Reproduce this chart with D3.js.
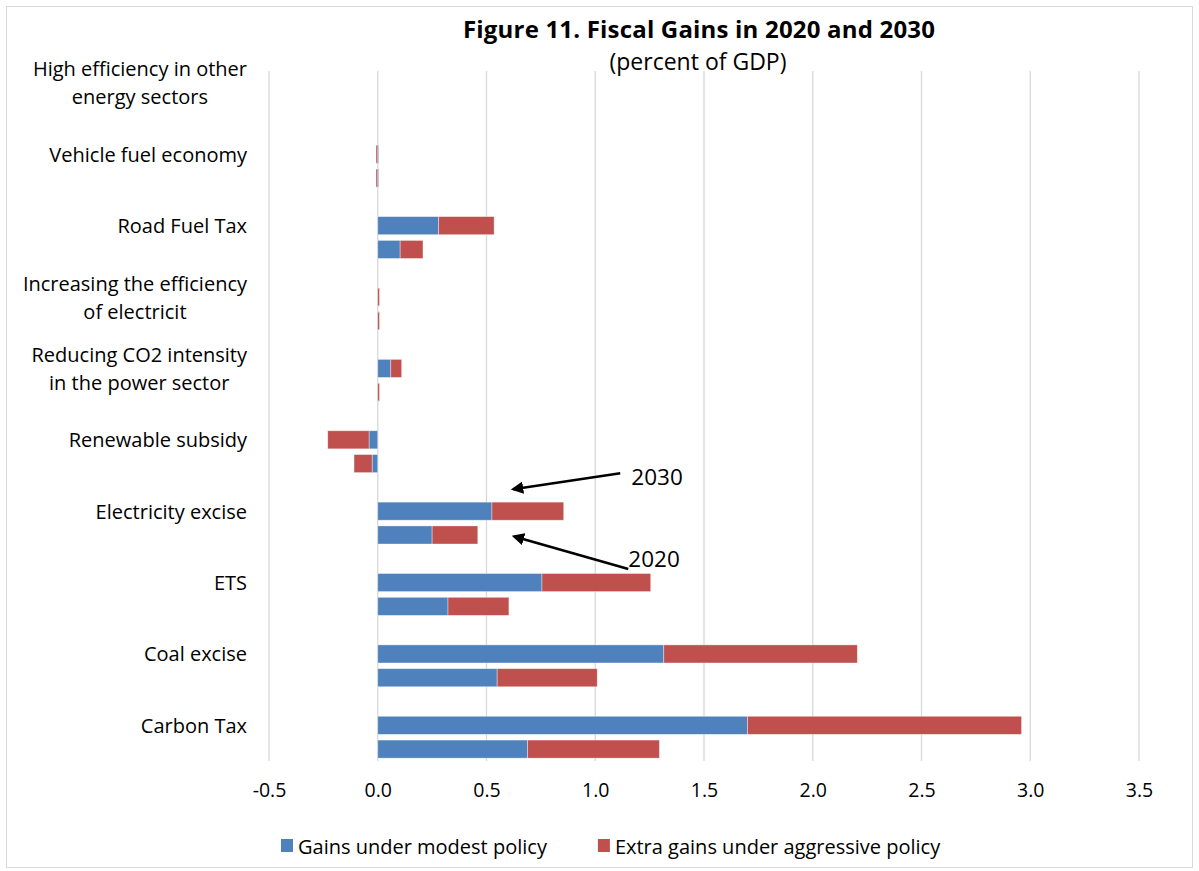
<!DOCTYPE html>
<meta charset="utf-8">
<style>
  body { margin: 0; background: #fff; }
  text { font-family: "Open Sans", "Noto Sans", sans-serif; fill: #000; }
</style>
<svg width="1199" height="871"></svg>
<script src="https://d3js.org/d3.v7.min.js"></script>
<script>

// categories, top to bottom as drawn ("|" marks a line break in the label)
var categories = [
  "High efficiency in other|energy sectors",
  "Vehicle fuel economy",
  "Road Fuel Tax",
  "Increasing the efficiency|of electricit",
  "Reducing CO2 intensity|in the power sector",
  "Renewable subsidy",
  "Electricity excise",
  "ETS",
  "Coal excise",
  "Carbon Tax"
]
var years = ["2030", "2020"]

// percent of GDP, same order as categories
var modest2030 = [0, -0.003, 0.28, 0, 0.06, -0.04, 0.525, 0.755, 1.315, 1.70]
var extra2030  = [0, -0.005, 0.255, 0.008, 0.05, -0.19, 0.33, 0.50, 0.89, 1.26]
var modest2020 = [0, -0.003, 0.103, 0, 0, -0.026, 0.25, 0.323, 0.549, 0.689]
var extra2020  = [0, -0.005, 0.105, 0.008, 0.008, -0.083, 0.21, 0.28, 0.46, 0.606]

var seriesNames = ["Gains under modest policy", "Extra gains under aggressive policy"]
var seriesColors = ["#4f81bd", "#c0504d"]
var xTicks = [-0.5, 0, 0.5, 1, 1.5, 2, 2.5, 3, 3.5]

// arrow notes pointing at the two electricity excise bars
var notes = [
  { text: "2030", row: "Electricity excise|2030", tx: 1.115, ty: -38, hx: 0.623, hy: -22, lx: 1.166, ly: -35 },
  { text: "2020", row: "Electricity excise|2020", tx: 1.152, ty: 34, hx: 0.627, hy: 1.5, lx: 1.152, ly: 24 }
]

var svg = d3.select("svg")

// chart frame
svg.append("rect")
  .attr("x", 6.5).attr("y", 6.5)
  .attr("width", 1186).attr("height", 861)
  .attr("fill", "none")
  .attr("stroke", "#d9d9d9")

// one row per bar, blank row between categories
var rows = []
categories.forEach(function(c, i) {
  rows.push(c + "|2030")
  rows.push(c + "|2020")
  if (i < categories.length - 1) rows.push("gap" + i)
})

var x = d3.scaleLinear().domain([-0.5, 3.5]).range([269, 1139])
var y = d3.scaleBand().domain(rows).range([71, 761]).paddingInner(0.24).paddingOuter(0.12)

// gridlines
svg.append("g")
  .selectAll("line")
  .data(xTicks)
  .enter().append("line")
    .attr("x1", function(d) { return x(d) })
    .attr("x2", function(d) { return x(d) })
    .attr("y1", 71)
    .attr("y2", 761)
    .attr("stroke", "#d9d9d9")
    .attr("stroke-width", 1.3)

// tick labels
var axis = d3.axisBottom(x).tickValues(xTicks)
  .tickFormat(function(d) { return d.toFixed(1) })
  .tickSize(0).tickPadding(22)
var axisG = svg.append("g").attr("transform", "translate(0,761)").call(axis)
axisG.select(".domain").remove()
axisG.selectAll("text")
  .attr("font-size", 19.5)
  .style("font-family", "'Open Sans', sans-serif")
  .attr("fill", "#000")

// bar data
var bars = []
categories.forEach(function(c, i) {
  var vals = { "2030": [modest2030[i], extra2030[i]], "2020": [modest2020[i], extra2020[i]] }
  years.forEach(function(yr) {
    var m = vals[yr][0], e = vals[yr][1]
    bars.push({ row: c + "|" + yr, s: 0, x0: 0, x1: m })
    bars.push({ row: c + "|" + yr, s: 1, x0: m, x1: m + e })
  })
})

svg.append("g")
  .selectAll("rect")
  .data(bars.filter(function(d) { return d.x0 !== d.x1 }))
  .enter().append("rect")
    .attr("x", function(d) { return x(Math.min(d.x0, d.x1)) })
    .attr("width", function(d) { return Math.max(1.5, Math.abs(x(d.x1) - x(d.x0))) })
    .attr("y", function(d) { return y(d.row) })
    .attr("height", y.bandwidth())
    .attr("fill", function(d) { return seriesColors[d.s] })
    .attr("stroke", "#fff")
    .attr("stroke-opacity", 0.5)
    .attr("stroke-width", 0.75)

// category labels: block right aligned, lines centred in the block
var labelRight = 247
categories.forEach(function(c) {
  var lines = c.split("|")
  var cy = y(c + "|2030") + y.bandwidth() / 2
  var g = svg.append("g")
  var lineH = 28
  var texts = lines.map(function(l, k) {
    return g.append("text")
      .attr("font-size", 20)
      .attr("text-anchor", "middle")
      .attr("dominant-baseline", "central")
      .attr("y", cy + (k - (lines.length - 1) / 2) * lineH)
      .text(l)
  })
  var w = d3.max(texts, function(t) { return t.node().getComputedTextLength() })
  texts.forEach(function(t) { t.attr("x", labelRight - w / 2) })
})

// arrows
svg.append("defs").append("marker")
  .attr("id", "head")
  .attr("viewBox", "0 0 10 10")
  .attr("refX", 8).attr("refY", 5)
  .attr("markerWidth", 5).attr("markerHeight", 5)
  .attr("orient", "auto")
  .append("path").attr("d", "M0,0L10,5L0,10z").attr("fill", "#000")

notes.forEach(function(n) {
  var cy = y(n.row) + y.bandwidth() / 2
  svg.append("line")
    .attr("x1", x(n.tx)).attr("y1", cy + n.ty)
    .attr("x2", x(n.hx)).attr("y2", cy + n.hy)
    .attr("stroke", "#000")
    .attr("stroke-width", 2.5)
    .attr("marker-end", "url(#head)")
  svg.append("text")
    .attr("x", x(n.lx)).attr("y", cy + n.ly)
    .attr("dominant-baseline", "central")
    .attr("font-size", 22.5)
    .text(n.text)
})

// title
svg.append("text")
  .attr("x", 699).attr("y", 28)
  .attr("text-anchor", "middle")
  .attr("dominant-baseline", "central")
  .attr("font-size", 24)
  .attr("font-weight", "bold")
  .attr("textLength", 472)
  .text("Figure 11. Fiscal Gains in 2020 and 2030")
svg.append("text")
  .attr("x", 698).attr("y", 61)
  .attr("text-anchor", "middle")
  .attr("dominant-baseline", "central")
  .attr("font-size", 23)
  .text("(percent of GDP)")

// legend
var legend = svg.append("g").attr("transform", "translate(281,846)")
var lx = 0
seriesNames.forEach(function(name, i) {
  var item = legend.append("g").attr("transform", "translate(" + lx + ",0)")
  item.append("rect")
    .attr("x", 0).attr("y", -7)
    .attr("width", 12).attr("height", 13)
    .attr("fill", seriesColors[i])
  var t = item.append("text")
    .attr("x", 17).attr("y", 0)
    .attr("dominant-baseline", "central")
    .attr("font-size", 20)
    .text(name)
  lx += 17 + t.node().getComputedTextLength() + 51
})

</script>
